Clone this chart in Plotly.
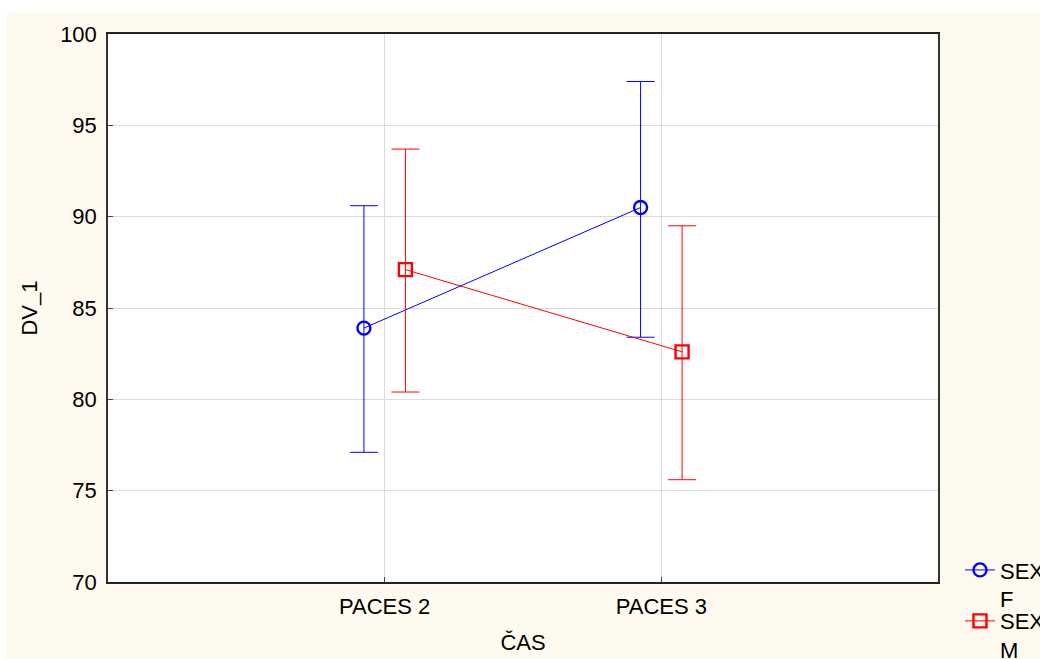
import plotly.graph_objects as go

categories = ["PACES 2", "PACES 3"]
cat_pos = [1, 2]

f_mean = [83.9, 90.5]
f_upper = [90.6, 97.4]
f_lower = [77.1, 83.4]

m_mean = [87.1, 82.6]
m_upper = [93.7, 89.5]
m_lower = [80.4, 75.6]

offset = 0.075
FONT = "Liberation Sans, Arial, sans-serif"
CREAM = "#FFFAF0"
FS = 22

fx = [p - offset for p in cat_pos]
mx = [p + offset for p in cat_pos]

fig = go.Figure()

fig.add_trace(go.Scatter(
    x=fx, y=f_mean, name="SEX<br>F", mode="lines+markers",
    line=dict(color="#0000FF", width=1),
    marker=dict(symbol="circle-open", size=13, color="#0000FF", line=dict(width=2.4)),
    error_y=dict(type="data", symmetric=False,
                 array=[u - m for u, m in zip(f_upper, f_mean)],
                 arrayminus=[m - l for l, m in zip(f_lower, f_mean)],
                 color="#0000FF", thickness=1, width=14),
    legend="legend",
))
fig.add_trace(go.Scatter(
    x=mx, y=m_mean, name="SEX<br>M", mode="lines+markers",
    line=dict(color="#FF0000", width=1),
    marker=dict(symbol="square-open", size=13, color="#FF0000", line=dict(width=2.4)),
    error_y=dict(type="data", symmetric=False,
                 array=[u - m for u, m in zip(m_upper, m_mean)],
                 arrayminus=[m - l for l, m in zip(m_lower, m_mean)],
                 color="#FF0000", thickness=1, width=14),
    legend="legend2",
))

# white border strips at the top and left of the cream page
fig.add_shape(type="rect", xref="paper", yref="paper", layer="below",
              x0=-0.2, x1=1.3, y0=1.0401, y1=1.08,
              fillcolor="white", line=dict(width=0))
fig.add_shape(type="rect", xref="paper", yref="paper", layer="below",
              x0=-0.2, x1=-0.1217, y0=-0.2, y1=1.08,
              fillcolor="white", line=dict(width=0))

leg_common = dict(x=1.0265, xanchor="left", yanchor="top",
                  bgcolor="rgba(0,0,0,0)", valign="top", tracegroupgap=0,
                  font=dict(family=FONT, size=FS, color="black"))

fig.update_layout(
    width=1040, height=659,
    margin=dict(l=108, r=102, t=34, b=77, autoexpand=False),
    paper_bgcolor=CREAM, plot_bgcolor="white",
    font=dict(family=FONT, size=FS, color="black"),
    showlegend=True,
    legend=dict(y=0.06, **leg_common),
    legend2=dict(y=-0.033, **leg_common),
)

fig.update_xaxes(
    range=[0, 3], tickvals=cat_pos, ticktext=categories,
    showgrid=True, gridcolor="#DCDCDC", gridwidth=1,
    showline=True, linecolor="#222", linewidth=1.5, mirror=True,
    ticks="inside", ticklen=5, tickcolor="#444", zeroline=False,
    ticklabelstandoff=4,
    tickfont=dict(family=FONT, size=FS, color="black"),
    title=dict(text="ČAS", standoff=16, font=dict(family=FONT, size=FS, color="black")),
)
fig.update_yaxes(
    range=[70, 100], dtick=5, tick0=70,
    showgrid=True, gridcolor="#DCDCDC", gridwidth=1,
    showline=True, linecolor="#333", linewidth=1.5, mirror=True,
    ticks="inside", ticklen=5, tickcolor="#444", zeroline=False,
    ticklabelstandoff=5,
    tickfont=dict(family=FONT, size=FS, color="black"),
    title=dict(text="DV_1", standoff=16, font=dict(family=FONT, size=FS, color="black")),
)

fig.write_html("out.html",
               config={"displayModeBar": False},
               post_script="document.body.style.margin='0';document.body.style.overflow='hidden';")
